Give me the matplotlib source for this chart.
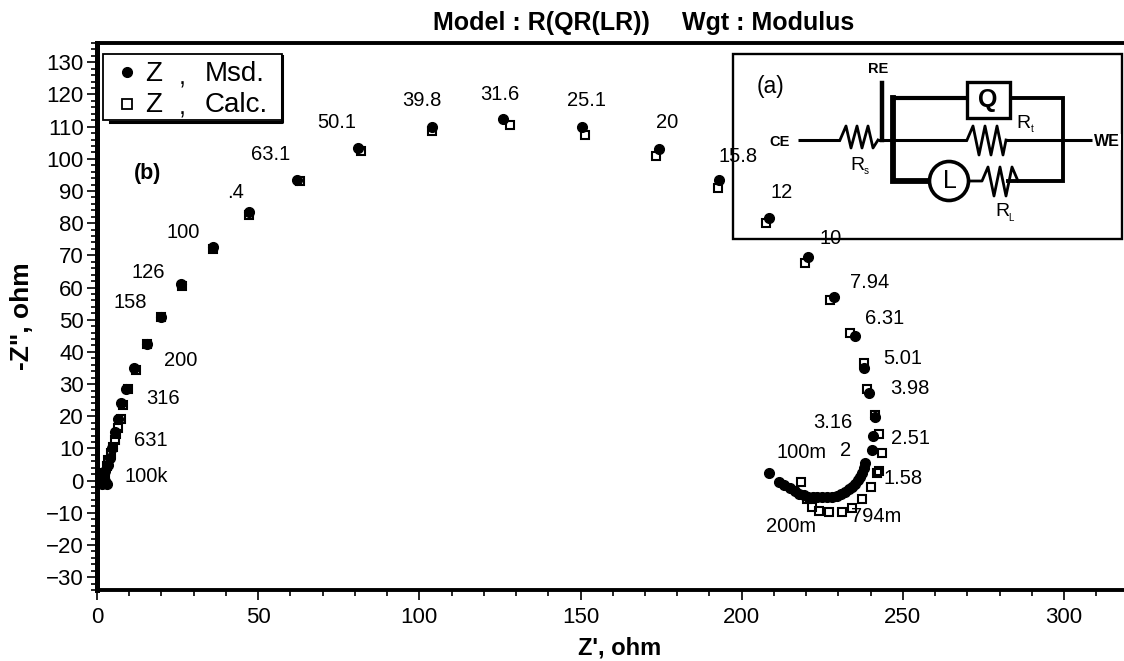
import matplotlib
matplotlib.use("Agg")
import matplotlib.pyplot as plt
from matplotlib.patches import Circle, Rectangle
from matplotlib.ticker import MultipleLocator

plt.rcParams["font.family"] = ["Liberation Sans", "DejaVu Sans"]

W, H = 1124, 661

# measured points, high frequency end first
msd_x = [1, 1.5, 2, 2.5, 3, 1.5, 2.5, 3.5, 4, 4.5, 5.5, 6.5, 7.5, 9, 11.5, 15.5, 20, 26, 36, 47, 62, 81, 104,
         126, 150.5, 174.5, 193, 208.5, 220.5, 228.5, 235, 238, 239.5, 241.4, 240.8, 240.5, 238.3, 237.8, 237.3, 236.8, 236.2,
         235.2, 234.2, 233.2, 232.1, 230.8, 229.5, 228, 226.5, 225, 223.5, 222, 220.5, 219.2, 217.9, 216.5, 215, 213, 211.5, 208.5]
msd_y = [0, -1, 1, 0, -1, 2, 3, 5, 7, 10, 15, 19, 24, 28.5, 35, 42.5, 51, 61, 72.5, 83.5, 93.5, 103.5, 110,
         112.5, 110, 103, 93.5, 81.5, 69.5, 57, 45, 35, 27.2, 19.8, 13.8, 9.5, 5.5, 4, 2.4, 1.2, 0.1,
         -1, -1.9, -2.7, -3.4, -4.1, -4.7, -5, -5.1, -5.2, -5.1, -5.1, -5, -4.6, -4.1, -3.2, -2.4, -1.3, -0.3, 2.3]

# calculated points
calc_x = [1.5, 2, 2.5, 3, 3.5, 4.2, 5, 5.5, 6, 6.5, 7.5, 8, 9.5, 12, 15.5, 20, 26.5, 36, 47, 63, 82, 104,
          128, 151.5, 173.5, 192.5, 207.5, 219.5, 227.5, 233.5, 238, 239, 241.5, 242.5, 243.5, 242.5, 241.9,
          240, 237.2, 234.1, 231, 227.1, 224, 221.8, 220.2, 218.5]
calc_y = [0.5, 1.5, 2.5, 4.5, 6.5, 8.5, 10.5, 12.5, 14.5, 16.5, 19, 23.5, 28.5, 34.5, 42.5, 51, 60.5, 72, 82.5, 93, 102.5, 108.5,
          110.5, 107.5, 101, 91, 80, 67.5, 56, 46, 36.5, 28.5, 20.5, 14.5, 8.5, 3, 2.3, -1.9, -5.8,
          -8.5, -9.8, -9.8, -9.5, -8.1, -5.7, -0.3]

freq_labels = ["100k", "631", "316", "200", "158", "126", "100", ".4", "63.1", "50.1", "39.8", "31.6",
               "25.1", "20", "15.8", "12", "10", "7.94", "6.31", "5.01", "3.98", "3.16", "2.51", "2",
               "1.58", "100m", "200m", "794m"]
freq_px = [(146, 477), (151, 441), (163, 399), (181, 361), (130, 303), (148, 272), (183, 232), (236, 192),
           (271, 155), (337, 122), (422, 100), (500, 94), (587, 100), (667, 123), (738, 156), (782, 192),
           (831, 239), (870, 283), (885, 319), (903, 358), (910, 388), (833, 423), (911, 439), (846, 450),
           (903, 478), (802, 453), (791, 526), (876, 517)]

fig = plt.figure(figsize=(W / 100, H / 100), dpi=100)
ax = fig.add_axes([97 / W, 1 - 590 / H, (W - 97) / W, (590 - 43) / H])
ax.set_xlim(0, 318.6)
ax.set_ylim(-34, 136)

ax.plot(msd_x, msd_y, ls="none", marker="o", ms=7, color="black")
ax.plot(calc_x, calc_y, ls="none", marker="s", ms=6.2, mfc="none", mec="black", mew=1.5)

ax.xaxis.set_major_locator(MultipleLocator(50))
ax.xaxis.set_minor_locator(MultipleLocator(10))
ax.yaxis.set_major_locator(MultipleLocator(10))
ax.yaxis.set_minor_locator(MultipleLocator(2))
ax.tick_params(which="major", length=7.5, width=1.2, labelsize=16, pad=2)
ax.tick_params(axis="x", which="major", pad=5)
ax.tick_params(which="minor", length=4.5, width=1.2)
for side in ["bottom", "top"]:
    ax.spines[side].set_linewidth(2.8)
ax.spines["left"].set_linewidth(3.6)
ax.spines["right"].set_visible(False)

# everything else is placed in picture pixels
ov = fig.add_axes([0, 0, 1, 1], facecolor="none")
ov.set_xlim(0, W)
ov.set_ylim(H, 0)
ov.axis("off")

ov.text(433, 23, "Model : R(QR(LR))", fontsize=18, fontweight="bold", ha="left", va="center")
ov.text(682, 23, "Wgt : Modulus", fontsize=18, fontweight="bold", ha="left", va="center")
ov.text(620, 648, "Z', ohm", fontsize=17, fontweight="bold", ha="center", va="center")
ov.text(22, 316, '-Z", ohm', fontsize=19, fontweight="bold", rotation=90, ha="center", va="center")
for label, (px, py) in zip(freq_labels, freq_px):
    ov.text(px, py, label, fontsize=14.5, ha="center", va="center", zorder=5)
ov.text(148, 173, "(b)", fontsize=15.5, fontweight="bold", ha="center", va="center")

# legend box
ov.add_patch(Rectangle((103, 54), 179, 66, fc="white", ec="black", lw=1.3, zorder=3))
ov.plot([110, 282, 282], [122, 122, 56], color="black", lw=2.2, zorder=3)
ov.plot([127], [72], marker="o", ms=7, color="black", zorder=4)
ov.plot([127], [104], marker="s", ms=6.5, mfc="none", mec="black", mew=1.3, zorder=4)
for py, name, sep in [(74, "Msd.", 78), (105, "Calc.", 108)]:
    ov.text(145, py, "Z", fontsize=20, ha="left", va="center", zorder=4)
    ov.text(182, sep, ",", fontsize=18, ha="center", va="center", zorder=4)
    ov.text(205, py, name, fontsize=20, ha="left", va="center", zorder=4)

# equivalent circuit inset
ov.add_patch(Rectangle((733, 54), 389, 185, fc="none", ec="black", lw=1.7, zorder=2))
wire = dict(color="black", lw=2.2, zorder=3, solid_capstyle="butt")
ov.plot([798, 840], [140, 140], **wire)
ov.plot([840, 846, 851, 857, 862, 868, 873, 878], [140, 126, 148, 126, 148, 126, 148, 140], color="black", lw=2, zorder=3)
ov.plot([878, 967], [140, 140], **wire)
ov.plot([967, 973, 979, 985, 991, 997, 1003, 1006], [140, 126, 155, 126, 155, 126, 155, 140], color="black", lw=2, zorder=3)
ov.plot([1006, 1092], [140, 140], **wire)
ov.plot([882, 882], [83, 140], color="black", lw=3.2, zorder=3)
ov.plot([967, 893, 893], [98, 98, 181], color="black", lw=3, zorder=3, solid_joinstyle="miter")
ov.plot([893, 893, 930], [98, 181, 181], color="black", lw=4.2, zorder=3, solid_joinstyle="miter")
ov.plot([1010, 1063, 1063, 1008], [98, 98, 181, 181], color="black", lw=2.8, zorder=3, solid_joinstyle="miter")
ov.plot([968, 982, 988, 994, 1000, 1006, 1012, 1018], [181, 181, 167, 196, 167, 196, 167, 181], color="black", lw=2, zorder=3)
ov.add_patch(Rectangle((967, 82), 43, 36, fc="white", ec="black", lw=2.4, zorder=4))
ov.add_patch(Circle((949, 181), 19.5, fc="white", ec="black", lw=2.6, zorder=4))
ov.text(988, 100, "Q", fontsize=18, fontweight="bold", ha="center", va="center", zorder=5)
ov.text(950, 181, "L", fontsize=18, ha="center", va="center", zorder=5)
ov.text(771, 87, "(a)", fontsize=16.5, ha="center", va="center")
ov.text(878, 69, "RE", fontsize=10.5, fontweight="bold", ha="center", va="center")
ov.text(780, 142, "CE", fontsize=10.5, fontweight="bold", ha="center", va="center")
ov.text(1107, 142, "WE", fontsize=11.5, fontweight="bold", ha="center", va="center", zorder=5,
        bbox=dict(fc="white", ec="none", pad=0.5))
for px, py, sub in [(857, 165, "s"), (1023, 123, "t"), (1002, 212, "L")]:
    ov.text(px, py, "R", fontsize=14, ha="center", va="center")
    ov.text(px + 9, py + 6, sub, fontsize=7, ha="center", va="center")

fig.savefig("out.png", dpi=100)
